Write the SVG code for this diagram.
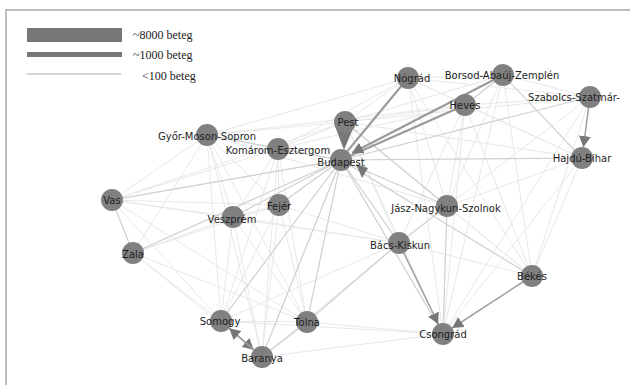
<svg xmlns="http://www.w3.org/2000/svg" width="630" height="385" viewBox="0 0 630 385">
<style>
.f{stroke:#e8e8e8;stroke-width:1}
.m{stroke:#cfcfcf;stroke-width:1.2}
.d{stroke:#9a9a9a;stroke-width:2}
.a{stroke:#9f9f9f;stroke-width:1.5}
.n circle{fill:#808080}
.n text{font-family:"DejaVu Sans",Verdana,sans-serif;font-size:10px;fill:#1e1e1e;text-anchor:middle}
.lg{font-family:"Liberation Serif","Times New Roman",serif;font-size:12px;fill:#222}
.ah{fill:#777}
</style>
<defs>
<marker id="arr" markerUnits="userSpaceOnUse" markerWidth="12" markerHeight="12" refX="11" refY="6" orient="auto">
<path d="M0,0 L11,6 L0,12 z" fill="#777"/>
</marker>
</defs>
<rect x="0" y="0" width="630" height="385" fill="#fff"/>
<path d="M6,385 V10 H630" fill="none" stroke="#bdbdbd" stroke-width="2"/>
<g id="legend">
<rect x="27" y="28" width="95" height="14" fill="#777"/>
<rect x="27" y="52" width="95" height="5" fill="#777"/>
<line x1="27" y1="74" x2="121" y2="74" stroke="#aaa" stroke-width="1"/>
<text class="lg" x="133" y="39">~8000 beteg</text>
<text class="lg" x="133" y="59">~1000 beteg</text>
<text class="lg" x="142" y="80">&lt;100 beteg</text>
</g>
<g id="connectors">
<g class="faint">
<line class="f" x1="112" y1="200" x2="341" y2="160"/>
<line class="f" x1="112" y1="200" x2="278" y2="149"/>
<line class="f" x1="112" y1="200" x2="345" y2="122"/>
<line class="f" x1="112" y1="200" x2="233" y2="217"/>
<line class="f" x1="112" y1="200" x2="279" y2="205"/>
<line class="f" x1="112" y1="200" x2="221" y2="321"/>
<line class="f" x1="112" y1="200" x2="207" y2="135"/>
<line class="f" x1="112" y1="200" x2="307" y2="322"/>
<line class="f" x1="112" y1="200" x2="399" y2="243"/>
<line class="f" x1="133" y1="253" x2="233" y2="217"/>
<line class="f" x1="133" y1="253" x2="221" y2="321"/>
<line class="f" x1="133" y1="253" x2="262" y2="357"/>
<line class="f" x1="133" y1="253" x2="279" y2="205"/>
<line class="f" x1="133" y1="253" x2="207" y2="135"/>
<line class="f" x1="133" y1="253" x2="307" y2="322"/>
<line class="f" x1="207" y1="135" x2="278" y2="149"/>
<line class="f" x1="207" y1="135" x2="233" y2="217"/>
<line class="f" x1="207" y1="135" x2="279" y2="205"/>
<line class="f" x1="207" y1="135" x2="221" y2="321"/>
<line class="f" x1="207" y1="135" x2="307" y2="322"/>
<line class="f" x1="207" y1="135" x2="262" y2="357"/>
<line class="f" x1="207" y1="135" x2="345" y2="122"/>
<line class="f" x1="207" y1="135" x2="447" y2="206"/>
<line class="f" x1="207" y1="135" x2="408" y2="78"/>
<line class="f" x1="207" y1="135" x2="465" y2="105"/>
<line class="f" x1="278" y1="149" x2="233" y2="217"/>
<line class="f" x1="278" y1="149" x2="279" y2="205"/>
<line class="f" x1="278" y1="149" x2="221" y2="321"/>
<line class="f" x1="278" y1="149" x2="307" y2="322"/>
<line class="f" x1="278" y1="149" x2="262" y2="357"/>
<line class="f" x1="278" y1="149" x2="345" y2="122"/>
<line class="f" x1="278" y1="149" x2="408" y2="78"/>
<line class="f" x1="278" y1="149" x2="465" y2="105"/>
<line class="f" x1="233" y1="217" x2="279" y2="205"/>
<line class="f" x1="233" y1="217" x2="221" y2="321"/>
<line class="f" x1="233" y1="217" x2="262" y2="357"/>
<line class="f" x1="233" y1="217" x2="307" y2="322"/>
<line class="f" x1="233" y1="217" x2="399" y2="243"/>
<line class="f" x1="279" y1="205" x2="307" y2="322"/>
<line class="f" x1="279" y1="205" x2="221" y2="321"/>
<line class="f" x1="279" y1="205" x2="262" y2="357"/>
<line class="f" x1="279" y1="205" x2="399" y2="243"/>
<line class="f" x1="221" y1="321" x2="307" y2="322"/>
<line class="f" x1="221" y1="321" x2="399" y2="243"/>
<line class="f" x1="221" y1="321" x2="443" y2="334"/>
<line class="f" x1="307" y1="322" x2="443" y2="334"/>
<line class="f" x1="262" y1="357" x2="399" y2="243"/>
<line class="f" x1="262" y1="357" x2="443" y2="334"/>
<line class="f" x1="399" y1="243" x2="532" y2="276"/>
<line class="f" x1="399" y1="243" x2="345" y2="122"/>
<line class="f" x1="399" y1="243" x2="465" y2="105"/>
<line class="f" x1="443" y1="334" x2="345" y2="122"/>
<line class="f" x1="443" y1="334" x2="465" y2="105"/>
<line class="f" x1="443" y1="334" x2="503" y2="75"/>
<line class="f" x1="443" y1="334" x2="582" y2="158"/>
<line class="f" x1="443" y1="334" x2="590" y2="97"/>
<line class="f" x1="443" y1="334" x2="408" y2="78"/>
<line class="f" x1="532" y1="276" x2="447" y2="206"/>
<line class="f" x1="532" y1="276" x2="582" y2="158"/>
<line class="f" x1="532" y1="276" x2="590" y2="97"/>
<line class="f" x1="532" y1="276" x2="465" y2="105"/>
<line class="f" x1="532" y1="276" x2="345" y2="122"/>
<line class="f" x1="532" y1="276" x2="503" y2="75"/>
<line class="f" x1="532" y1="276" x2="408" y2="78"/>
<line class="f" x1="447" y1="206" x2="465" y2="105"/>
<line class="f" x1="447" y1="206" x2="503" y2="75"/>
<line class="f" x1="447" y1="206" x2="582" y2="158"/>
<line class="f" x1="447" y1="206" x2="590" y2="97"/>
<line class="f" x1="447" y1="206" x2="408" y2="78"/>
<line class="f" x1="582" y1="158" x2="345" y2="122"/>
<line class="f" x1="582" y1="158" x2="465" y2="105"/>
<line class="f" x1="582" y1="158" x2="408" y2="78"/>
<line class="f" x1="590" y1="97" x2="345" y2="122"/>
<line class="f" x1="590" y1="97" x2="465" y2="105"/>
<line class="f" x1="590" y1="97" x2="503" y2="75"/>
<line class="f" x1="590" y1="97" x2="408" y2="78"/>
<line class="f" x1="408" y1="78" x2="345" y2="122"/>
<line class="f" x1="408" y1="78" x2="465" y2="105"/>
<line class="f" x1="408" y1="78" x2="503" y2="75"/>
<line class="f" x1="465" y1="105" x2="345" y2="122"/>
<line class="f" x1="503" y1="75" x2="345" y2="122"/>
</g>
<g class="medium">
<line class="m" x1="341" y1="160" x2="207" y2="135"/>
<line class="m" x1="341" y1="160" x2="278" y2="149"/>
<line class="m" x1="341" y1="160" x2="112" y2="200"/>
<line class="m" x1="341" y1="160" x2="233" y2="217"/>
<line class="m" x1="341" y1="160" x2="133" y2="253"/>
<line class="m" x1="341" y1="160" x2="279" y2="205"/>
<line class="m" x1="341" y1="160" x2="221" y2="321"/>
<line class="m" x1="341" y1="160" x2="307" y2="322"/>
<line class="m" x1="341" y1="160" x2="262" y2="357"/>
<line class="m" x1="341" y1="160" x2="399" y2="243"/>
<line class="m" x1="341" y1="160" x2="447" y2="206"/>
<line class="m" x1="341" y1="160" x2="582" y2="158"/>
<line class="m" x1="341" y1="160" x2="590" y2="97"/>
<line class="m" x1="341" y1="160" x2="443" y2="334"/>
<line class="m" x1="341" y1="160" x2="532" y2="276"/>
<line class="m" x1="112" y1="200" x2="133" y2="253"/>
<line class="m" x1="447" y1="206" x2="443" y2="334"/>
<line class="m" x1="399" y1="243" x2="447" y2="206"/>
<line class="m" x1="307" y1="322" x2="262" y2="357"/>
<line class="m" x1="307" y1="322" x2="399" y2="243"/>
<line class="m" x1="503" y1="75" x2="582" y2="158"/>
<line class="m" x1="503" y1="75" x2="465" y2="105"/>
<line class="m" x1="345" y1="122" x2="447" y2="206"/>
</g>
<g class="strong">
<line class="d" x1="408" y1="78" x2="345" y2="154"/>
<line class="d" x1="465" y1="105" x2="351" y2="155.5"/>
<line class="d" x1="503" y1="75" x2="352" y2="153" marker-end="url(#arr)"/>
<line class="a" x1="590" y1="97" x2="583.4" y2="147" marker-end="url(#arr)"/>
<line class="a" x1="399" y1="243" x2="438.2" y2="324" marker-end="url(#arr)"/>
<line class="a" x1="532" y1="276" x2="452.2" y2="328" marker-end="url(#arr)"/>
<line class="a" x1="221" y1="321" x2="253.7" y2="349.7" marker-end="url(#arr)"/>
<line class="a" x1="262" y1="357" x2="229.3" y2="328.3" marker-end="url(#arr)"/>
<polygon class="ah" points="335,126 354,126 344,150"/>
<polygon class="ah" points="356,164 368,168 362,178"/>
</g>
</g>
<g id="nodes">
<g id="n-nograd" class="n"><circle cx="408" cy="78" r="11"/><text x="412" y="82">Nógrád</text></g>
<g id="n-borsod" class="n"><circle cx="503" cy="75" r="11"/><text x="502" y="79">Borsod-Abaúj-Zemplén</text></g>
<g id="n-heves" class="n"><circle cx="465" cy="105" r="11"/><text x="465" y="109">Heves</text></g>
<g id="n-szabolcs" class="n"><circle cx="590" cy="97" r="11"/><text x="574" y="101">Szabolcs-Szatmár-</text></g>
<g id="n-hajdu" class="n"><circle cx="582" cy="158" r="11"/><text x="582" y="162">Hajdú-Bihar</text></g>
<g id="n-pest" class="n"><circle cx="345" cy="122" r="11"/><text x="348" y="126">Pest</text></g>
<g id="n-budapest" class="n"><circle cx="341" cy="160" r="11"/><text x="341" y="166">Budapest</text></g>
<g id="n-komarom" class="n"><circle cx="278" cy="149" r="11"/><text x="278" y="154">Komárom-Esztergom</text></g>
<g id="n-gyor" class="n"><circle cx="207" cy="135" r="11"/><text x="207" y="140">Győr-Moson-Sopron</text></g>
<g id="n-vas" class="n"><circle cx="112" cy="200" r="11"/><text x="112" y="204">Vas</text></g>
<g id="n-zala" class="n"><circle cx="133" cy="253" r="11"/><text x="133" y="258">Zala</text></g>
<g id="n-veszprem" class="n"><circle cx="233" cy="217" r="11"/><text x="232" y="223">Veszprém</text></g>
<g id="n-fejer" class="n"><circle cx="279" cy="205" r="11"/><text x="279" y="210">Fejér</text></g>
<g id="n-jasz" class="n"><circle cx="447" cy="206" r="11"/><text x="446" y="212">Jász-Nagykun-Szolnok</text></g>
<g id="n-bacs" class="n"><circle cx="399" cy="243" r="11"/><text x="400" y="249">Bács-Kiskun</text></g>
<g id="n-bekes" class="n"><circle cx="532" cy="276" r="11"/><text x="532" y="280">Békés</text></g>
<g id="n-somogy" class="n"><circle cx="221" cy="321" r="11"/><text x="220" y="325">Somogy</text></g>
<g id="n-tolna" class="n"><circle cx="307" cy="322" r="11"/><text x="307" y="326">Tolna</text></g>
<g id="n-baranya" class="n"><circle cx="262" cy="357" r="11"/><text x="262" y="362">Baranya</text></g>
<g id="n-csongrad" class="n"><circle cx="443" cy="334" r="11"/><text x="443" y="338">Csongrád</text></g>
</g>
</svg>
